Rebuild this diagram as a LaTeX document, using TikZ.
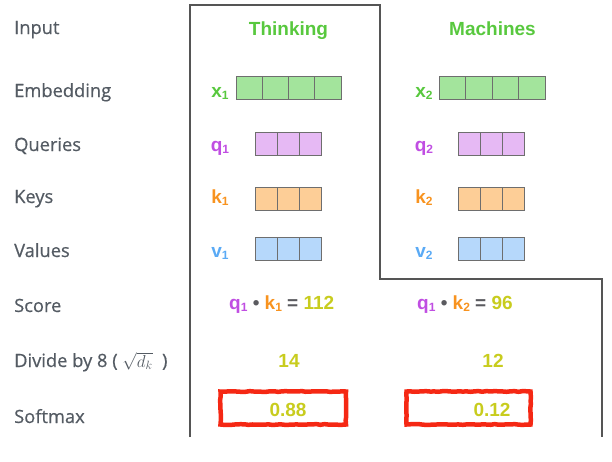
\documentclass[tikz,border=0pt]{standalone}
\usepackage{fontspec}
\setmainfont{Open Sans}
\newfontfamily\hv{Liberation Sans}
\usetikzlibrary{decorations.pathmorphing}
\definecolor{txtgray}{RGB}{84,91,99}
\definecolor{dkgray}{RGB}{90,90,95}
\definecolor{linegray}{RGB}{85,85,85}
\definecolor{cellgray}{RGB}{110,110,110}
\definecolor{grn}{RGB}{88,200,62}
\definecolor{grnfill}{RGB}{163,228,156}
\definecolor{pur}{RGB}{192,78,226}
\definecolor{purfill}{RGB}{230,185,244}
\definecolor{org}{RGB}{248,147,31}
\definecolor{orgfill}{RGB}{253,206,151}
\definecolor{blu}{RGB}{90,170,245}
\definecolor{blufill}{RGB}{182,216,251}
\definecolor{ylw}{RGB}{200,204,30}
\definecolor{redbox}{RGB}{245,40,20}
\newcommand{\subn}[1]{\raisebox{-0.2ex}{\fontsize{12}{13}\selectfont #1}}
\newcommand{\vecbox}[6]{%
  \foreach \i in {1,...,#4}{%
    \node[cellbox, minimum width=#5, fill=#6] (#1-\i) at ({#2+(\i-0.5)*#5}, #3) {};
  }}
\tikzset{
  lbl/.style={anchor=base west, inner sep=0, text=txtgray, font=\fontsize{18.3}{20}\selectfont\addfontfeatures{FakeBold=0.6}},
  hdr/.style={anchor=base, inner sep=0, text=grn, font=\hv\bfseries\fontsize{19}{22}\selectfont},
  vlbl/.style={anchor=base, inner sep=0, font=\hv\bfseries\fontsize{19}{20}\selectfont},
  num/.style={anchor=base, inner sep=0, text=ylw, font=\hv\bfseries\fontsize{19}{20}\selectfont},
  cellbox/.style={draw=cellgray, line width=1pt, minimum height=23, inner sep=0, rectangle},
  softbox/.style={draw=redbox, line width=4.5pt, inner sep=0, rectangle,
    decorate, decoration={random steps, segment length=4pt, amplitude=0.4pt}},
  outline/.style={draw=linegray, line width=1.2pt}
}
\begin{document}
\begin{tikzpicture}[x=1pt,y=-1pt]
\useasboundingbox (0,0) rectangle (612,461);
% outline
\draw[outline] (190,437) -- (190,5) -- (380,5) -- (380,279) -- (602,279) -- (602,437);
% row labels
\node[lbl] (lInput) at (14,34) {Input};
\node[lbl] (lEmb) at (14,97) {Embedding};
\node[lbl] (lQ) at (14,151) {Queries};
\node[lbl] (lK) at (14,203) {Keys};
\node[lbl] (lV) at (14,257) {Values};
\node[lbl] (lS) at (14,312) {Score};
\node[lbl] (lD) at (14,367) {Divide by 8 ( {\color{txtgray}\fontsize{17}{18}\selectfont$\sqrt{d_k}$}\ \ )};
\node[lbl] (lSm) at (14,423) {Softmax};
% headers
\node[hdr] (h1) at (288.5,35) {Thinking};
\node[hdr] (h2) at (492.5,35) {Machines};
% vector labels
\node[vlbl, text=grn] (x1) at (220,97) {x\subn{1}};
\node[vlbl, text=grn] (x2) at (424,97) {x\subn{2}};
\node[vlbl, text=pur] (q1) at (220,151) {q\subn{1}};
\node[vlbl, text=pur] (q2) at (424,151) {q\subn{2}};
\node[vlbl, text=org] (k1) at (220,203) {k\subn{1}};
\node[vlbl, text=org] (k2) at (424,203) {k\subn{2}};
\node[vlbl, text=blu] (v1) at (220,257) {v\subn{1}};
\node[vlbl, text=blu] (v2) at (424,257) {v\subn{2}};
% vectors
\vecbox{ex1}{236}{88}{4}{26.25}{grnfill}
\vecbox{ex2}{439}{88}{4}{26.5}{grnfill}
\vecbox{qv1}{255}{143.5}{3}{22.33}{purfill}
\vecbox{qv2}{458}{143.5}{3}{22.33}{purfill}
\vecbox{kv1}{255}{199}{3}{22.33}{orgfill}
\vecbox{kv2}{458}{199}{3}{22.33}{orgfill}
\vecbox{vv1}{255}{249}{3}{22.33}{blufill}
\vecbox{vv2}{458}{249}{3}{22.33}{blufill}
% scores
\node[anchor=base west, inner sep=0, font=\hv\bfseries\fontsize{19}{20}\selectfont] (s1) at (229,309)
  {\textcolor{pur}{q\subn{1}} \textcolor{dkgray}{\textbullet} \textcolor{org}{k\subn{1}} \textcolor{dkgray}{=} \textcolor{ylw}{112}};
\node[anchor=base west, inner sep=0, font=\hv\bfseries\fontsize{19}{20}\selectfont] (s2) at (417,309)
  {\textcolor{pur}{q\subn{1}} \textcolor{dkgray}{\textbullet} \textcolor{org}{k\subn{2}} \textcolor{dkgray}{=} \textcolor{ylw}{96}};
% divided
\node[num] (d1) at (289,367) {14};
\node[num] (d2) at (493,367) {12};
% softmax
\node[softbox, minimum width=125.5, minimum height=33] (sm1) at (283.25,408) {};
\node[softbox, minimum width=124, minimum height=33] (sm2) at (468.5,408) {};
\node[num] (p1) at (288,416) {0.88};
\node[num] (p2) at (492,416) {0.12};
\end{tikzpicture}
\end{document}
